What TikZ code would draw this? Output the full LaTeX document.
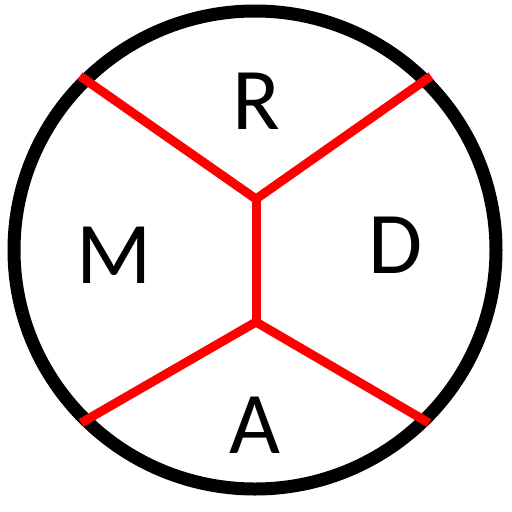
\documentclass[tikz,border=0pt]{standalone}
\usepackage{fontspec}
\setmainfont{Carlito}
\tikzset{
  ring/.style={draw=black, line width=13pt},
  divider/.style={draw=red, line width=9pt, line join=miter},
  letter/.style={anchor=base, inner sep=0pt, font=\fontsize{88}{88}\selectfont}
}
\begin{document}
\begin{tikzpicture}[x=1pt,y=-1pt]
\useasboundingbox (0,0) rectangle (512,512);
\draw[ring] (255,250) ellipse [x radius=241, y radius=239];
\coordinate (jt) at (256,199);
\coordinate (jb) at (256,322);
\coordinate (tl) at (80,76);
\coordinate (tr) at (431,76);
\coordinate (bl) at (81,423);
\coordinate (br) at (429,423);
\draw[divider] (tl) -- (jt) -- (tr);
\draw[divider] (jt) -- (jb);
\draw[divider] (bl) -- (jb) -- (br);
\node[letter] (R) at (256,129) {R};
\node[letter] (M) at (114,283) {M};
\node[letter] (D) at (396,273) {D};
\node[letter] (A) at (255,453) {A};
\end{tikzpicture}
\end{document}
